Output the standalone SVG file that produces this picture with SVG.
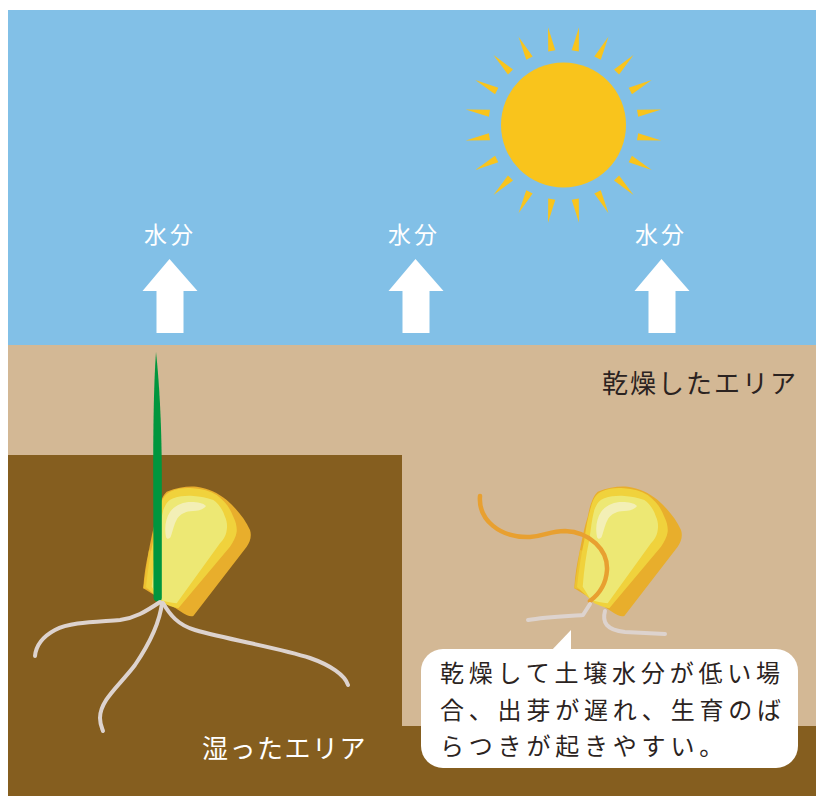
<svg xmlns="http://www.w3.org/2000/svg" xmlns:xlink="http://www.w3.org/1999/xlink" width="816" height="796" viewBox="0 0 816 796">
  <style>
    .cjk { font-family: "Noto Sans CJK JP", "Noto Sans CJK SC", sans-serif; }
    .vapor { fill: #ffffff; font-size: 23px; letter-spacing: 3px; }
    .area-dry { fill: #2b2321; font-size: 26px; letter-spacing: 2px; }
    .area-wet { fill: #ffffff; font-size: 26px; letter-spacing: 1.5px; }
    .note { fill: #2b2321; font-size: 24px; letter-spacing: 4.8px; }
    .root { fill: none; stroke: #ddd3ce; stroke-width: 4; stroke-linecap: round; stroke-linejoin: round; }
    .ray { fill: #f9c41c; }
  </style>
  <defs>
    <!-- upward arrow, tip at origin -->
    <path id="up-arrow" d="M0,0 L28,32 L14,32 L14,74 L-13,74 L-13,32 L-27,32 Z" fill="#ffffff"/>
    <!-- one sun ray pointing up from the sun centre -->
    <polygon id="sun-ray" points="-3.6,-75 3.6,-75 0,-99"/>
    <!-- corn kernel -->
    <g id="kernel">
      <path fill="#e8ae2c" d="M166.7,491.7 C178,487 188,486 196.7,486.7 C208,488 218,493 226.7,500 C236,508 245,519 250,530 C252,536 250,542 246.7,546.7 L193.3,616 C190,617 186,615 183.3,613.3 L173.3,606.7 L143.3,588.3 C144,575 146,564 148.3,553.3 C151,540 153,528 156.7,516.7 C159,505 162,496 166.7,491.7 Z"/>
      <path fill="#ecc232" d="M143.3,588.3 L149,550 L156,552 L151,590 Z"/>
      <path fill="#f0d23c" d="M146,587 C148,570 150,555 153.3,540 C155,528 157,516 160,506.7 C162,499 165,494 170,491.7 C178,488 186,487.5 193.3,488.3 C202,489 210,491 216.7,495 C225,501 230,508 233.3,516.7 C236,522 237,527 236.7,531.7 C236,537 233,542 230,546.7 L178.3,608.3 C172,607 167,605 163.3,603.3 Z"/>
      <path fill="#ede874" d="M151.7,586.7 C153,570 155,555 158.3,540 C160,528 161,518 163.3,510 C166,503 169,500 173.3,498.3 C180,496 187,495.5 193.3,496 C200,496.5 207,497.5 213.3,500 C219,504 223,510 225,516.7 C227,521 227.5,526 226.7,530 C226,536 223,540 220,543.3 L176.7,603.3 C171,602.5 165,601.5 160,600 Z"/>
      <path fill="#f3efb6" d="M166,537 C164,527 166,518 170,512 C175,505 183,502 191,502 C198,502 203,503 206,506 C204,509 199,511 193,511 C186,511 180,514 177,519 C174,524 173,530 171,536 C170,539 167,540 166,537 Z"/>
    </g>
  </defs>

  <!-- sky -->
  <rect id="sky" x="8" y="10" width="808" height="336" fill="#82c0e7"/>

  <!-- soil: dry layer and moist layer -->
  <g id="soil">
    <rect x="8" y="345" width="808" height="451" fill="#d3b895"/>
    <path d="M8,455 L402,455 L402,726 L816,726 L816,796 L8,796 Z" fill="#855e1f"/>
  </g>

  <!-- sun -->
  <g id="sun">
    <circle cx="563.5" cy="125" r="62.5" fill="#f9c41c"/>
    <g transform="translate(563.5,125)" class="ray">
      <use xlink:href="#sun-ray" transform="rotate(9)"/>
      <use xlink:href="#sun-ray" transform="rotate(27)"/>
      <use xlink:href="#sun-ray" transform="rotate(45)"/>
      <use xlink:href="#sun-ray" transform="rotate(63)"/>
      <use xlink:href="#sun-ray" transform="rotate(81)"/>
      <use xlink:href="#sun-ray" transform="rotate(99)"/>
      <use xlink:href="#sun-ray" transform="rotate(117)"/>
      <use xlink:href="#sun-ray" transform="rotate(135)"/>
      <use xlink:href="#sun-ray" transform="rotate(153)"/>
      <use xlink:href="#sun-ray" transform="rotate(171)"/>
      <use xlink:href="#sun-ray" transform="rotate(189)"/>
      <use xlink:href="#sun-ray" transform="rotate(207)"/>
      <use xlink:href="#sun-ray" transform="rotate(225)"/>
      <use xlink:href="#sun-ray" transform="rotate(243)"/>
      <use xlink:href="#sun-ray" transform="rotate(261)"/>
      <use xlink:href="#sun-ray" transform="rotate(279)"/>
      <use xlink:href="#sun-ray" transform="rotate(297)"/>
      <use xlink:href="#sun-ray" transform="rotate(315)"/>
      <use xlink:href="#sun-ray" transform="rotate(333)"/>
      <use xlink:href="#sun-ray" transform="rotate(351)"/>
    </g>
  </g>

  <!-- evaporation arrows -->
  <g id="vapor-1">
    <text class="cjk vapor" x="144" y="243">水分</text>
    <use xlink:href="#up-arrow" x="169.5" y="259"/>
  </g>
  <g id="vapor-2">
    <text class="cjk vapor" x="388" y="243">水分</text>
    <use xlink:href="#up-arrow" x="415.5" y="259"/>
  </g>
  <g id="vapor-3">
    <text class="cjk vapor" x="635" y="243">水分</text>
    <use xlink:href="#up-arrow" x="661.5" y="259"/>
  </g>

  <!-- area labels -->
  <g id="label-dry">
    <text class="cjk area-dry" x="602" y="393">乾燥したエリア</text>
  </g>
  <g id="label-wet">
    <text class="cjk area-wet" x="202" y="758">湿ったエリア</text>
  </g>

  <!-- germinated kernel in moist soil -->
  <g id="seed-moist">
    <use xlink:href="#kernel"/>
    <path fill="#00963e" d="M156,352 C159,380 161.5,420 161.8,470 L161.8,598 C161.8,603 154,603 153.5,598 L153.2,470 C153.2,420 154,380 156,352 Z"/>
    <path class="root" d="M160,602 C145,612 135,618 120,620 C95,622 70,622 55,630 C42,637 36,646 35,656"/>
    <path class="root" d="M162,603 C160,620 152,640 135,665 C120,685 100,700 100,718 C100,724 102,728 103,731"/>
    <path class="root" d="M163,603 C170,615 178,625 195,630 C230,640 280,648 310,658 C330,665 345,675 348,685"/>
  </g>

  <!-- delayed kernel in dry soil -->
  <g id="seed-dry">
    <use xlink:href="#kernel" transform="translate(431,0)"/>
    <path fill="none" stroke="#e8a030" stroke-width="4.5" stroke-linecap="round" d="M480,496 C478,520 500,538 530,537 C545,536 550,531 565,531 C590,532 608,550 607,570 C606,585 598,595 590,601"/>
    <path class="root" d="M590,604 L583,615 C570,616 545,617 528,620"/>
    <path class="root" d="M605,611 C602,622 606,630 625,632 L665,634"/>
  </g>

  <!-- callout -->
  <g id="callout">
    <rect x="421" y="649" width="377" height="119" rx="22" ry="22" fill="#ffffff"/>
    <polygon points="550,652 571,630 571,652" fill="#ffffff"/>
    <text class="cjk note" x="440" y="682">乾燥して土壌水分が低い場</text>
    <text class="cjk note" x="440" y="719">合、出芽が遅れ、生育のば</text>
    <text class="cjk note" x="440" y="755">らつきが起きやすい。</text>
  </g>
</svg>
